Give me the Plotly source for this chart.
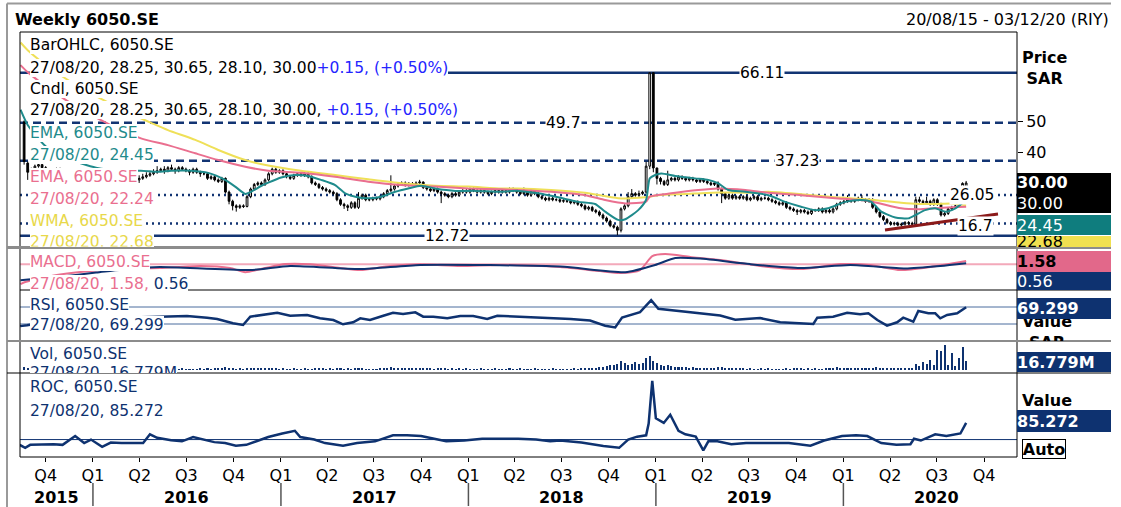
import pandas as pd
import plotly.graph_objects as go

W, H = 1121, 507
FONT = "DejaVu Sans, Verdana, Tahoma, sans-serif"

# ---------------- data (weekly bars, 20/08/15 .. 27/08/20) ----------------
start_date = "2015-08-20"

opens = [50.0, 36.5, 33.5, 34.5, 35.5, 36.0, 35.0, 34.0, 33.0, 33.5,
         34.5, 33.5, 32.5, 31.5, 30.5, 31.0, 32.0, 31.0, 30.0, 29.5,
         30.5, 31.5, 30.5, 31.0, 32.0, 31.5, 30.5, 31.5, 32.0, 31.0,
         31.5, 32.0, 31.0, 31.5, 32.0, 32.5, 33.0, 33.5, 34.0, 34.5,
         34.0, 35.0, 34.5, 34.0, 35.0, 34.5, 34.0, 33.5, 34.5, 33.5,
         33.0, 33.0, 31.5, 32.0, 31.0, 30.5, 31.5, 27.0, 24.0, 22.5,
         22.0, 22.5, 22.3, 25.5, 28.0, 29.5, 30.0, 29.5, 31.0, 33.0,
         34.5, 33.5, 34.0, 33.0, 32.0, 31.5, 32.5, 33.0, 32.5, 33.0,
         32.0, 30.0, 29.5, 28.5, 28.0, 27.5, 27.0, 26.5, 24.5, 23.0,
         22.5, 22.0, 23.5, 22.0, 25.0, 26.0, 24.5, 24.5, 25.0, 24.8,
         25.5, 26.5, 27.5, 28.0, 29.0, 29.5, 30.0, 29.3, 29.8, 29.5,
         30.0, 30.3, 28.5, 28.0, 27.5, 28.0, 27.0, 26.5, 26.0, 25.5,
         26.5, 26.0, 27.0, 27.5, 27.0, 28.0, 27.5, 27.0, 27.5, 27.0,
         26.5, 27.0, 27.5, 27.0, 27.5, 27.0, 28.0, 27.5, 27.0, 26.5,
         27.0, 26.0, 27.5, 26.5, 25.5, 25.0, 24.5, 25.0, 24.5, 24.5,
         24.0, 24.2, 24.0, 23.5, 23.8, 23.0, 22.5, 21.5, 22.0, 21.0,
         20.5, 19.5, 18.5, 17.5, 16.0, 15.5, 14.5, 21.5, 22.5, 25.5,
         26.5, 26.0, 26.5, 27.0, 35.5, 66.11, 34.9, 31.5, 30.5, 29.5,
         31.0, 31.5, 31.0, 32.0, 31.5, 31.0, 31.5, 31.0, 30.5, 31.0,
         30.5, 30.0, 29.5, 30.0, 28.0, 26.5, 25.0, 26.0, 25.0, 25.5,
         25.0, 25.5, 24.5, 25.0, 25.5, 24.5, 25.0, 25.0, 24.5, 24.0,
         23.5, 23.0, 23.5, 22.0, 21.5, 21.0, 20.5, 21.0, 20.5, 20.0,
         21.0, 21.0, 21.5, 20.5, 21.0, 20.5, 21.5, 23.0, 23.5, 24.0,
         24.5, 24.0, 24.5, 25.0, 24.5, 24.0, 24.5, 22.0, 20.5, 19.0,
         18.0, 17.0, 16.5, 16.8, 16.2, 16.5, 17.0, 16.8, 16.5, 24.5,
         24.0, 23.5, 24.0, 23.0, 24.5, 23.0, 19.5, 20.0, 21.5, 22.0,
         22.5, 23.0, 28.25]

highs = [50.5, 37.0, 35.0, 36.0, 36.5, 36.5, 35.5, 34.5, 34.0, 35.0,
         35.0, 34.0, 33.0, 32.0, 31.5, 32.5, 32.5, 31.5, 30.5, 31.0,
         32.0, 32.0, 31.5, 32.5, 32.5, 32.0, 32.0, 32.5, 32.5, 32.0,
         32.5, 32.5, 32.5, 33.0, 33.5, 34.0, 34.5, 35.5, 35.0, 35.5,
         35.5, 36.0, 35.0, 35.5, 35.5, 35.0, 34.5, 35.0, 35.0, 34.0,
         33.5, 33.5, 32.5, 32.5, 31.5, 32.0, 31.8, 27.5, 24.5, 23.0,
         23.0, 23.0, 26.0, 28.5, 30.0, 30.5, 30.5, 31.5, 33.5, 35.0,
         35.0, 34.5, 34.5, 33.5, 32.5, 33.0, 33.5, 33.5, 33.5, 33.5,
         32.5, 30.5, 30.0, 29.0, 28.5, 28.0, 27.5, 27.0, 25.0, 23.5,
         23.0, 24.0, 24.0, 27.0, 26.5, 26.5, 25.0, 25.5, 25.5, 26.0,
         27.0, 28.0, 32.5, 29.5, 30.0, 30.5, 30.5, 30.3, 30.3, 30.5,
         31.0, 30.5, 29.0, 28.5, 28.5, 28.5, 27.5, 27.0, 26.5, 27.0,
         27.0, 27.5, 28.0, 28.0, 28.5, 28.5, 28.0, 28.0, 28.0, 27.5,
         27.5, 28.0, 28.0, 28.0, 28.0, 28.5, 28.5, 28.0, 27.5, 28.5,
         27.5, 28.0, 28.0, 27.0, 26.0, 25.5, 25.5, 25.5, 25.0, 25.0,
         24.7, 24.7, 24.5, 24.3, 24.3, 23.5, 23.0, 22.5, 22.5, 21.5,
         21.0, 20.0, 19.0, 18.0, 16.5, 16.0, 22.0, 23.0, 27.0, 28.0,
         27.0, 27.5, 27.5, 37.0, 66.11, 66.11, 35.0, 32.0, 31.0, 34.0,
         32.0, 32.0, 32.5, 32.5, 32.0, 32.0, 32.0, 31.5, 31.5, 31.5,
         31.0, 30.5, 30.5, 30.5, 28.5, 27.0, 26.5, 26.5, 26.0, 26.0,
         26.0, 26.0, 25.5, 26.0, 26.0, 25.5, 25.5, 25.5, 25.0, 24.5,
         24.0, 24.0, 24.0, 22.5, 22.0, 21.5, 21.5, 21.5, 21.0, 21.5,
         21.5, 22.0, 22.0, 21.5, 21.5, 22.0, 23.5, 24.0, 24.5, 26.0,
         25.0, 25.0, 25.5, 26.0, 25.0, 25.0, 25.0, 22.5, 21.0, 19.5,
         18.5, 17.5, 17.3, 17.3, 17.0, 17.5, 17.5, 17.3, 25.5, 25.5,
         24.5, 25.5, 24.5, 25.0, 25.0, 23.5, 20.5, 22.0, 22.5, 23.0,
         23.5, 30.2, 30.65]

lows = [36.0, 31.0, 33.0, 34.0, 35.0, 34.5, 33.5, 32.5, 32.5, 33.0,
        33.0, 32.0, 31.0, 30.0, 30.0, 30.5, 30.5, 29.5, 29.0, 29.0,
        30.0, 30.0, 30.0, 30.5, 31.0, 30.0, 30.0, 31.0, 30.5, 30.5,
        31.0, 30.5, 30.0, 31.0, 31.5, 32.0, 32.5, 33.0, 33.5, 33.0,
        33.5, 34.0, 33.0, 33.5, 34.0, 33.5, 32.5, 33.0, 33.0, 32.0,
        32.5, 31.0, 31.0, 30.5, 30.0, 30.0, 26.5, 23.0, 21.0, 20.6,
        21.5, 21.8, 22.0, 25.0, 27.5, 29.0, 29.0, 29.0, 30.5, 32.5,
        33.0, 33.0, 32.5, 31.5, 31.0, 31.0, 32.0, 32.0, 32.0, 31.5,
        29.5, 29.0, 28.0, 27.5, 27.0, 26.5, 26.0, 24.0, 22.5, 21.5,
        20.8, 21.5, 21.5, 21.5, 24.5, 24.0, 24.0, 24.0, 24.3, 24.3,
        25.0, 26.0, 27.0, 27.5, 28.5, 29.0, 28.8, 28.8, 29.0, 29.0,
        29.5, 28.0, 27.5, 27.0, 27.0, 26.5, 23.4, 25.5, 25.0, 25.0,
        25.5, 25.5, 26.5, 26.5, 26.5, 27.0, 26.5, 26.5, 26.5, 26.0,
        26.0, 26.5, 26.5, 26.5, 26.5, 26.5, 27.0, 26.5, 26.0, 26.0,
        25.5, 25.5, 26.0, 25.0, 24.5, 24.0, 24.0, 24.0, 24.0, 23.5,
        23.5, 23.5, 23.0, 23.0, 22.5, 22.0, 21.0, 21.0, 20.5, 20.0,
        19.0, 18.0, 17.0, 15.5, 15.0, 12.9, 13.8, 21.0, 22.0, 25.0,
        25.5, 25.5, 26.0, 26.5, 34.5, 33.5, 29.5, 29.5, 29.0, 29.0,
        30.5, 30.5, 30.5, 31.0, 30.5, 30.5, 30.5, 30.0, 30.0, 30.0,
        29.5, 29.0, 29.0, 27.5, 23.4, 24.5, 24.5, 24.5, 24.5, 24.5,
        24.5, 24.0, 24.0, 24.5, 24.0, 24.0, 24.5, 24.0, 23.5, 23.0,
        22.5, 22.5, 21.5, 21.0, 20.5, 19.5, 20.0, 20.0, 19.5, 19.5,
        20.5, 20.5, 20.0, 20.0, 20.0, 20.0, 21.0, 22.5, 23.0, 23.5,
        23.5, 23.5, 24.0, 24.0, 23.5, 23.5, 21.5, 20.0, 18.5, 17.5,
        16.5, 16.0, 16.0, 15.8, 15.8, 16.0, 16.3, 16.0, 16.0, 23.5,
        23.0, 23.0, 22.5, 22.5, 22.5, 19.0, 19.0, 19.5, 21.0, 21.5,
        22.0, 22.8, 28.10]

closes = [37.0, 33.5, 34.5, 35.5, 36.0, 35.0, 34.0, 33.0, 33.5, 34.5,
          33.5, 32.5, 31.5, 30.5, 31.0, 32.0, 31.0, 30.0, 29.5, 30.5,
          31.5, 30.5, 31.0, 32.0, 31.5, 30.5, 31.5, 32.0, 31.0, 31.5,
          32.0, 31.0, 31.5, 32.0, 32.5, 33.0, 33.5, 34.0, 34.5, 34.0,
          35.0, 34.5, 34.0, 35.0, 34.5, 34.0, 33.5, 34.5, 33.5, 33.0,
          33.0, 31.5, 32.0, 31.0, 30.5, 31.5, 27.0, 24.0, 22.5, 22.0,
          22.5, 22.3, 25.5, 28.0, 29.5, 30.0, 29.5, 31.0, 33.0, 34.5,
          33.5, 34.0, 33.0, 32.0, 31.5, 32.5, 33.0, 32.5, 33.0, 32.0,
          30.0, 29.5, 28.5, 28.0, 27.5, 27.0, 26.5, 24.5, 23.0, 22.5,
          22.0, 23.5, 22.0, 25.0, 26.0, 24.5, 24.5, 25.0, 24.8, 25.5,
          26.5, 27.5, 28.0, 29.0, 29.5, 30.0, 29.3, 29.8, 29.5, 30.0,
          30.3, 28.5, 28.0, 27.5, 28.0, 27.0, 26.5, 26.0, 25.5, 26.5,
          26.0, 27.0, 27.5, 27.0, 28.0, 27.5, 27.0, 27.5, 27.0, 26.5,
          27.0, 27.5, 27.0, 27.5, 27.0, 28.0, 27.5, 27.0, 26.5, 27.0,
          26.0, 27.5, 26.5, 25.5, 25.0, 24.5, 25.0, 24.5, 24.5, 24.0,
          24.2, 24.0, 23.5, 23.8, 23.0, 22.5, 21.5, 22.0, 21.0, 20.5,
          19.5, 18.5, 17.5, 16.0, 15.5, 14.5, 21.5, 22.5, 25.5, 26.5,
          26.0, 26.5, 27.0, 35.5, 66.11, 34.9, 31.5, 30.5, 29.5, 31.0,
          31.5, 31.0, 32.0, 31.5, 31.0, 31.5, 31.0, 30.5, 31.0, 30.5,
          30.0, 29.5, 30.0, 28.0, 26.5, 25.0, 26.0, 25.0, 25.5, 25.0,
          25.5, 24.5, 25.0, 25.5, 24.5, 25.0, 25.0, 24.5, 24.0, 23.5,
          23.0, 23.5, 22.0, 21.5, 21.0, 20.5, 21.0, 20.5, 20.0, 21.0,
          21.0, 21.5, 20.5, 21.0, 20.5, 21.5, 23.0, 23.5, 24.0, 24.5,
          24.0, 24.5, 25.0, 24.5, 24.0, 24.5, 22.0, 20.5, 19.0, 18.0,
          17.0, 16.5, 16.8, 16.2, 16.5, 17.0, 16.8, 16.5, 24.5, 24.0,
          23.5, 24.0, 23.0, 24.5, 23.0, 19.5, 20.0, 21.5, 22.0, 22.5,
          23.0, 29.85, 30.0]

volume_m = [6, 4, 3, 3, 2.5, 2, 3, 2.5, 2, 3,
            2.5, 2, 3, 2, 2.5, 3, 2, 2.5, 3, 2,
            2.5, 3, 2, 2.5, 2, 3, 2.5, 2, 2.5, 3,
            2, 2.5, 3, 2, 2.5, 2, 3, 2.5, 2, 2.5,
            3, 2, 2.5, 2, 3, 2.5, 2, 2.5, 2, 3,
            2.5, 3, 2, 4, 3, 3.5, 5, 4, 3, 2.5,
            3, 2.5, 4, 3.5, 3, 4, 3, 3.5, 4, 3,
            3, 2.5, 3, 2, 2.5, 3, 2, 2.5, 3, 2,
            2.5, 3, 3.5, 3, 2.5, 3, 2.5, 3.5, 3, 2.5,
            3, 2.5, 3, 4, 3, 2.5, 2, 2.5, 2, 3,
            3, 3.5, 5, 4, 3.5, 3, 4, 3, 3.5, 3,
            3, 4, 3.5, 3, 2.5, 3, 4, 3, 2.5, 3,
            2.5, 3, 2.5, 3, 2.5, 2, 2.5, 3, 2.5, 2,
            2.5, 3, 2.5, 2, 2.5, 3, 2.5, 2, 3, 2.5,
            2, 2.5, 3, 2.5, 2, 2.5, 2, 3, 2.5, 2,
            2.5, 2, 2.5, 3, 2.5, 3, 4, 3.5, 4, 3.5,
            5, 6, 8, 10, 9, 12, 18, 14, 10, 12,
            15, 12, 14, 22, 26, 18, 14, 10, 8, 9,
            7, 6, 5, 6, 5, 4, 5, 4, 3.5, 4,
            3.5, 3, 4, 5, 6, 4, 3.5, 3, 3.5, 3,
            3, 2.5, 3, 2.5, 2, 3, 2.5, 3, 2.5, 2,
            2.5, 2, 3, 2.5, 3, 3.5, 3, 2.5, 3, 2.5,
            3, 2.5, 2, 3, 3.5, 4, 5, 4, 3.5, 4,
            3.5, 3, 4, 3, 3.5, 3, 4, 5, 4, 3.5,
            3, 3.5, 3, 4, 3, 3.5, 4, 3, 12, 8,
            15, 12, 19, 9, 38, 36, 47, 9, 32, 7,
            22, 43, 16.779]

# indicator lines at sample weeks (week offset from start)
ema_fast_wk = [-1, 1, 6, 12, 20, 27, 32.5, 37.3, 40.9, 46.5,
               51.2, 55.9, 58.7, 61.5, 63.1, 65.9, 67.9, 71.5, 75.4, 79,
               82.6, 86.5, 89.3, 92.1, 95.7, 99.3, 103.2, 106.8, 110.4, 114.3,
               119.9, 125.5, 132.7, 137.4, 143, 148.5, 154.1, 158.8, 161.6, 165.2,
               167.2, 170.8, 173, 174, 175.5, 177.2, 181.1, 186.6, 190.3, 193,
               195.8, 200.6, 207, 211.7, 216.1, 220, 223.6, 228.4, 232.8, 235.6,
               238.4, 242.3, 245.9, 247.9, 250.6, 253.4, 256.2, 259, 262]
ema_fast_val = [54, 49, 42, 38, 35, 34, 34.0, 33.7, 34.0, 34.0,
                33.3, 31.0, 28.8, 26.4, 27.1, 29.0, 30.1, 31.8, 32.6, 32.3,
                31.0, 29.3, 26.6, 25.5, 25.0, 25.5, 27.1, 28.2, 29.1, 28.2,
                27.4, 27.4, 27.1, 27.4, 26.6, 25.3, 23.8, 23.1, 20.6, 17.9,
                18.1, 21.1, 24.5, 31.5, 32.6, 33.1, 32.3, 31.5, 31.0, 29.9,
                27.7, 27.1, 26.0, 23.8, 22.2, 21.1, 21.7, 23.8, 24.4, 23.8,
                20.6, 18.7, 18.4, 19.5, 21.1, 21.7, 20.6, 21.7, 24.45]

ema_slow_wk = [-1, 1, 8, 16, 24, 32.5, 40, 47.6, 54, 61.5,
               67.9, 77, 86.5, 95.7, 104.9, 114.3, 123.5, 132.7, 137.4, 146.6,
               156, 161.6, 167.2, 173, 174, 180, 187.5, 193, 200.6, 207,
               216.1, 225.6, 234.8, 243.9, 248.7, 253.4, 257.9, 262]
ema_slow_val = [68.6, 66.3, 60, 54, 49, 44.6, 42.4, 39.7, 37.5, 35.3,
                34.0, 33.3, 32.0, 30.4, 29.3, 28.8, 28.2, 27.9, 27.7, 27.1,
                26.0, 24.4, 23.3, 23.9, 25.5, 26.6, 27.7, 28.2, 27.7, 26.8,
                26.0, 25.0, 24.1, 21.7, 21.4, 21.7, 22.0, 22.24]

wma_wk = [-1, 1, 8, 16, 24, 30, 35.3, 40, 47.6, 54,
          61.5, 67.9, 77, 86.5, 95.7, 104.9, 114.3, 123.5, 132.7, 137.4,
          146.6, 156, 165.2, 172.8, 176.4, 183.9, 193, 202.2, 207, 216.1,
          225.6, 234.8, 243.9, 248.7, 253.4, 257.9, 262]
wma_val = [76, 73.5, 67, 61, 56, 52.5, 49.7, 47.3, 44.1, 40.8,
           37.5, 35.7, 34.0, 32.6, 31.2, 29.9, 29.1, 28.8, 28.2, 28.2,
           27.7, 26.8, 25.0, 25.3, 26.0, 26.4, 26.9, 26.8, 27.1, 26.3,
           25.3, 24.6, 23.5, 23.1, 23.1, 23.3, 22.68]

macd_wk = [-1, 0.3, 10, 20, 30, 37.8, 49, 57.3, 61.5, 67,
           72.6, 79.6, 87.9, 93.5, 101.8, 110.2, 121.3, 132.4, 149.1, 160.2,
           165.8, 171.3, 174.7, 178.3, 185.3, 193.6, 204.7, 215.9, 227, 235.3,
           243.7, 252, 262]
macd_val = [-9.6, -8.6, -5, -3, -2, -1.8, -0.8, -1.8, -3.8, -1.8,
            0.1, 0.0, -1.8, -2.8, -0.8, 0.0, -0.8, -0.3, -1.3, -3.3,
            -4.2, -2.8, 4.0, 5.0, 3.6, 2.1, -0.8, -2.3, 0.1, -0.3,
            -2.8, -1.3, 1.58]
signal_wk = [-1, 10, 20, 30, 37.8, 62.9, 74, 93.5, 110.2, 149.1,
             167.2, 175.5, 181.1, 188, 201.9, 215.9, 229.8, 245.1, 254.8, 262]
signal_val = [-7.7, -6, -4, -2, -1.3, -2.8, -0.8, -2.3, -0.3, -1.1,
              -3.8, -0.3, 3.1, 2.8, 0.1, -1.8, -0.3, -2.0, -0.8, 0.56]

rsi_wk = [-1.1, 0.8, 10, 20, 30, 39.8, 45.3, 50.9, 53.7, 58.1,
          60.9, 62.9, 67.6, 70.4, 74, 78.7, 82.3, 86, 88.7, 91.5,
          93.5, 96.2, 99.9, 102.6, 105.4, 108.8, 111, 113.8, 117.7, 121.3,
          124.9, 128.8, 131.6, 138, 145, 152, 157.4, 161.6, 164.4, 166.3,
          171.3, 174.4, 176.4, 182.5, 188, 193.6, 197.8, 204.7, 210.3, 215.9,
          219.5, 220.6, 225, 228.9, 232.5, 234.8, 237.3, 240, 242.8, 244.5,
          247.3, 248.7, 251.5, 253.4, 254.8, 256.7, 259.5, 262]
rsi_val = [25, 27, 40, 35, 45, 47.2, 48.8, 44.9, 41.8, 31.6,
           27.6, 47.2, 52.8, 56.6, 49.5, 51.2, 43.4, 39.4, 29.3, 34.0,
           43.4, 39.4, 49.5, 56.6, 53.5, 57.5, 47.2, 47.2, 43.4, 48.8,
           48.8, 41.8, 49.5, 47, 44, 42, 38, 26, 22, 45,
           58, 86, 66, 60, 55, 50, 40, 44, 34, 31.6,
           30.0, 44.9, 47.2, 56.6, 52.8, 55.2, 39.4, 26.0, 34.0, 44.9,
           35.4, 60.6, 55.2, 55.2, 43.4, 51.2, 55.2, 69.299]

roc_wk = [-1.2, 0.3, 1.7, 5.3, 8.2, 10.7, 14.2, 16.7, 18.6, 21.7,
          24.1, 27.1, 30, 33.1, 35, 37, 40.9, 43.9, 47, 50,
          52.9, 55.9, 58.9, 61.8, 64.8, 67.9, 71.8, 75.3, 76.8, 80.7,
          83.7, 88.7, 92.6, 97.6, 102.6, 106.5, 110.4, 114.6, 117.4, 122.4,
          127.4, 132.4, 137.4, 142.4, 146.3, 149.1, 155, 161.1, 165.5, 168,
          170.5, 173, 173.7, 174.7, 175.7, 177.9, 179.7, 182, 183.9, 186.8,
          188.9, 190.3, 192.8, 196.7, 200.8, 206.7, 212.7, 218.7, 222.5, 227.5,
          231.4, 234.5, 238.4, 242.6, 246.5, 247.5, 249.4, 253.4, 256.5, 260.4,
          262]
roc_val = [-27, -42, -27, -24, -24, -27, 18, -18, 0, -37,
           -15, -18, -18, -18, 27, 9, -3, -9, 13, 0,
           -13, -18, -31, -27, -9, 13, 31, 45, 13, 0,
           -18, -31, -18, -9, 22, 22, 18, 0, -9, -5,
           4, 4, 4, 0, -9, -5, -15, -33, -42, 0,
           15, 22, 82, 300, 109, 85, 127, 45, 27, 15,
           -55, -9, -9, -24, -18, -18, -18, -31, -5, 18,
           22, 18, -18, -27, -24, 4, -5, 27, 18, 31,
           85.272]

trend_dates = ["2020-03-22", "2020-10-28"]
trend_vals = [14.6, 19.8]

levels = [66.11, 49.7, 37.23, 26.05, 16.7, 12.72]
rsi_levels = [70, 30]
quarter_dates = pd.date_range("2015-10-01", "2020-10-01", freq="QS")
quarter_labels = [f"Q{d.quarter}" for d in quarter_dates]
year_labels = ["2015", "2016", "2017", "2018", "2019", "2020"]
year_label_dates = ["2015-10-23", "2016-07-01", "2017-07-02", "2018-07-02", "2019-07-02", "2020-07-01"]
year_starts = ["2016-01-01", "2017-01-01", "2018-01-01", "2019-01-01", "2020-01-01"]

# ---------------- styles ----------------
NAVY = "#0e3270"
LEVEL = "#123473"
TEAL = "#1f8b8c"
PINK = "#ea6f8f"
YELLOW = "#efe058"
BLUE_TXT = "#2424ff"
level_dash = ["solid", "8px,5px", "8px,5px", "2px,4px", "2px,4px", "solid"]
level_label_px = [785, 563, 820, 995, 994, 447]
level_label_dy = [0, 0, 0, 0, 2, 0]

t0 = pd.Timestamp(start_date)


def wk(ix):
    return [t0 + pd.Timedelta(days=7 * k) for k in ix]


dates = wk(range(len(closes)))
assert len(opens) == len(highs) == len(lows) == len(closes) == len(volume_m) == 263


def py(p):
    return 1 - p / H


def pxx(p):
    return p / W


fig = go.Figure()

# price panel
fig.add_trace(go.Candlestick(
    x=dates, open=opens, high=highs, low=lows, close=closes,
    increasing=dict(line=dict(color="black", width=1), fillcolor="white"),
    decreasing=dict(line=dict(color="black", width=1), fillcolor="black"),
    whiskerwidth=0, xaxis="x", yaxis="y", hoverinfo="skip", showlegend=False))
for wks, vals, col in [(wma_wk, wma_val, YELLOW), (ema_slow_wk, ema_slow_val, PINK),
                       (ema_fast_wk, ema_fast_val, TEAL)]:
    fig.add_trace(go.Scatter(x=wk(wks), y=vals, mode="lines", xaxis="x", yaxis="y",
                             line=dict(color=col, width=2, shape="spline", smoothing=0.6),
                             hoverinfo="skip", showlegend=False))
fig.add_trace(go.Scatter(x=trend_dates, y=trend_vals, mode="lines", xaxis="x", yaxis="y",
                         line=dict(color="#8b1a1a", width=3), hoverinfo="skip", showlegend=False))

# MACD panel
fig.add_trace(go.Scatter(x=wk(macd_wk), y=macd_val, mode="lines", xaxis="x", yaxis="y2",
                         line=dict(color=PINK, width=2, shape="spline", smoothing=0.6), showlegend=False))
fig.add_trace(go.Scatter(x=wk(signal_wk), y=signal_val, mode="lines", xaxis="x", yaxis="y2",
                         line=dict(color=NAVY, width=2, shape="spline", smoothing=0.6), showlegend=False))
# RSI panel
fig.add_trace(go.Scatter(x=wk(rsi_wk), y=rsi_val, mode="lines", xaxis="x", yaxis="y3",
                         line=dict(color=NAVY, width=2.5), showlegend=False))
# Volume panel
fig.add_trace(go.Bar(x=dates, y=volume_m, xaxis="x", yaxis="y4", marker=dict(color=NAVY, line=dict(width=0)),
                     width=4 * 86400000, showlegend=False))
# ROC panel
fig.add_trace(go.Scatter(x=wk(roc_wk), y=roc_val, mode="lines", xaxis="x", yaxis="y5",
                         line=dict(color=NAVY, width=2.5), showlegend=False))

shapes = []
X0, X1 = pxx(20), pxx(1017)
for lv, dsh in zip(levels, level_dash):
    shapes.append(dict(type="line", xref="paper", yref="y", x0=X0, x1=X1, y0=lv, y1=lv,
                       line=dict(color=LEVEL, width=2.5, dash=dsh), layer="below"))
shapes.append(dict(type="line", xref="paper", yref="y2", x0=X0, x1=X1, y0=0, y1=0,
                   line=dict(color="#f3a9ba", width=2), layer="below"))
for lv in rsi_levels:
    shapes.append(dict(type="line", xref="paper", yref="y3", x0=X0, x1=X1, y0=lv, y1=lv,
                       line=dict(color="#4b6c9e", width=1), layer="below"))
shapes.append(dict(type="line", xref="paper", yref="y5", x0=X0, x1=X1, y0=0, y1=0,
                   line=dict(color=NAVY, width=1), layer="below"))


def hline(ypx, x0px, x1px, color="black", width=1):
    shapes.append(dict(type="line", xref="paper", yref="paper", x0=pxx(x0px), x1=pxx(x1px),
                       y0=py(ypx), y1=py(ypx), line=dict(color=color, width=width)))


def vline(xpx, y0px, y1px, color="black", width=1):
    shapes.append(dict(type="line", xref="paper", yref="paper", x0=pxx(xpx), x1=pxx(xpx),
                       y0=py(y0px), y1=py(y1px), line=dict(color=color, width=width)))


hline(3.5, 7, 1111, "#9a9a9a", 2)
vline(7, 3.5, 507, "#9a9a9a", 2)
hline(32, 20, 1017)
vline(20, 32, 457)
vline(1017, 32, 457)
hline(247.5, 7, 1111, "#8c8c8c", 3)
hline(290, 20, 1111)
hline(341, 7, 1111, "#8c8c8c", 2)
hline(373, 7, 1111)
hline(457, 20, 1017)
for ys in year_starts:
    shapes.append(dict(type="line", xref="x", yref="paper", x0=ys, x1=ys, y0=py(483), y1=py(506),
                       line=dict(color="#555555", width=1.5)))

ann = []


def text(txt, xpx, ypx, color="black", size=15.5, bg=None, xanchor="left", yanchor="middle", **kw):
    d = dict(text=txt, x=pxx(xpx), y=py(ypx), xref="paper", yref="paper", xanchor=xanchor,
             yanchor=yanchor, showarrow=False, font=dict(family=FONT, size=size, color=color),
             borderpad=0, borderwidth=0)
    if bg:
        d["bgcolor"] = bg
    d.update(kw)
    ann.append(d)


last = dates[-1].strftime("%d/%m/%y")
chg = closes[-1] - closes[-2]
pct = chg / closes[-2] * 100
ohlc = f"{last}, {opens[-1]:.2f}, {highs[-1]:.2f}, {lows[-1]:.2f}, {closes[-1]:.2f}"
chg_txt = f"<span style='color:{BLUE_TXT}'>{chg:+.2f}, ({pct:+.2f}%)</span>"

text("<b>Weekly 6050.SE</b>", 15, 20, size=16)
text("20/08/15 - 03/12/20 (RIY)", 1109, 20, size=16, xanchor="right")

text("BarOHLC, 6050.SE", 30, 45, bg="white")
text(ohlc + chg_txt, 30, 68, bg="white")
text("Cndl, 6050.SE", 30, 89, bg="white")
text(ohlc + ", " + chg_txt, 30, 110, bg="white")
text("EMA, 6050.SE", 30, 133, color=TEAL, bg="white")
text(f"{last}, {ema_fast_val[-1]:.2f}", 30, 155, color=TEAL, bg="white")
text("EMA, 6050.SE", 30, 177, color=PINK, bg="white")
text(f"{last}, {ema_slow_val[-1]:.2f}", 30, 199, color=PINK, bg="white")
text("WMA, 6050.SE", 30, 221, color="#e8d84a", bg="white")
text(f"{last}, {wma_val[-1]:.2f}", 30, 233, color="#e8d84a", bg="white", yanchor="top",
     height=13.5, valign="top")

text("MACD, 6050.SE", 30, 262, color=PINK, bg="white")
text(f"{last}, {macd_val[-1]:.2f}, <span style='color:{NAVY}'>{signal_val[-1]:.2f}</span>", 30, 283.5,
     color=PINK, bg="white")
text("RSI, 6050.SE", 30, 305, color=NAVY, bg="white")
text(f"{last}, {rsi_val[-1]:.3f}", 30, 325, color=NAVY, bg="white")
text("Vol, 6050.SE", 30, 354, color=NAVY, bg="white")
text(f"{last}, {volume_m[-1]:.3f}M", 30, 364, color=NAVY, bg="white", yanchor="top", height=9, valign="top")
text("ROC, 6050.SE", 30, 387, color=NAVY, bg="white")
text(f"{last}, {roc_val[-1]:.3f}", 30, 411, color=NAVY, bg="white")

# level labels
for lv, xc, dy in zip(levels, level_label_px, level_label_dy):
    ann.append(dict(text=f"{lv:g}", x=pxx(xc), xref="paper", y=lv, yref="y", showarrow=False,
                    yanchor="middle", yshift=-dy, bgcolor="white", borderpad=0,
                    font=dict(family=FONT, size=15.5, color="black")))

# right column
text("<b>Price</b><br><b>SAR</b>", 1022, 68, size=16)
text("<b>Value</b><br><b>SAR</b>", 1022, 312, size=16, yanchor="top", height=29, valign="top")
text("<b>Value</b>", 1022, 400, size=16)


def box(txt, top, bottom, bg, color, bold=False, x0=1017, x1=1111, **kw):
    t = f"<b>{txt}</b>" if bold else txt
    text(t, x0, top, color=color, size=16, bg=bg, yanchor="top", width=x1 - x0,
         height=bottom - top, align="left", valign="middle", **kw)


box(f"<b>{closes[-1]:.2f}</b><br>{closes[-1]:.2f}", 173, 213, "black", "white")
box(f"{ema_fast_val[-1]:.2f}", 215, 235, "#0f7d7e", "white")
box(f"{wma_val[-1]:.2f}", 236, 247, "#f0e050", "black")
box(f"{macd_val[-1]:.2f}", 251, 272, "#e2688a", "black", bold=True)
box(f"{signal_val[-1]:.2f}", 272, 290, NAVY, "white")
box(f"{rsi_val[-1]:.3f}", 298, 319, NAVY, "white", bold=True)
box(f"{volume_m[-1]:.3f}M", 352, 372, NAVY, "white", bold=True)
box(f"{roc_val[-1]:.3f}", 410, 432, NAVY, "white", bold=True)
text("<b>Auto</b>", 1022, 438.5, size=16, yanchor="top", width=42, height=18, valign="top",
     bordercolor="black", borderwidth=1, bgcolor="white")

for lab, d in zip(year_labels, year_label_dates):
    ann.append(dict(text=f"<b>{lab}</b>", x=d, xref="x", y=py(497), yref="paper", showarrow=False,
                    yanchor="middle", xanchor="center", font=dict(family=FONT, size=16, color="black")))

fig.update_layout(
    width=W, height=H, margin=dict(l=0, r=0, t=0, b=0),
    paper_bgcolor="white", plot_bgcolor="white", showlegend=False,
    font=dict(family=FONT, size=16, color="black"),
    xaxis=dict(domain=[X0, X1], anchor="y5", type="date", range=["2015-08-12", "2020-12-04"],
               tickvals=list(quarter_dates), ticktext=quarter_labels, ticks="outside", ticklen=4,
               tickcolor="black", tickfont=dict(size=16), showgrid=False, zeroline=False,
               showline=False, rangeslider=dict(visible=False)),
    yaxis=dict(domain=[py(247), py(32)], range=[9.02, 79.44], side="right", anchor="x",
               tickvals=[40, 50], ticks="outside", ticklen=5, tickcolor="black",
               tickfont=dict(size=16), showgrid=False, zeroline=False),
    yaxis2=dict(domain=[py(290), py(248)], range=[-12.5, 7.95], anchor="x", showticklabels=False,
                showgrid=False, zeroline=False),
    yaxis3=dict(domain=[py(341), py(290)], range=[-10, 110], anchor="x", showticklabels=False,
                showgrid=False, zeroline=False),
    yaxis4=dict(domain=[py(373), py(341)], range=[-5.7, 55], anchor="x", showticklabels=False,
                showgrid=False, zeroline=False),
    yaxis5=dict(domain=[py(457), py(373)], range=[-89, 340], anchor="x", showticklabels=False,
                showgrid=False, zeroline=False),
    shapes=shapes, annotations=ann, bargap=0, hovermode=False,
)

fig.write_html("out.html", config={"displayModeBar": False, "staticPlot": True},
               post_script="document.body.style.margin='0';document.body.style.overflow='hidden';")
